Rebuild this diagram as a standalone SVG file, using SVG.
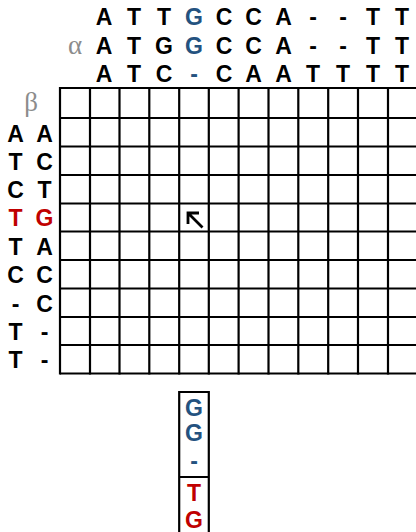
<svg xmlns="http://www.w3.org/2000/svg" width="416" height="532" viewBox="0 0 416 532">
<style>
.b{font-family:"Liberation Sans",Arial,sans-serif;font-weight:bold;font-size:23px;text-anchor:middle;fill:#000}
.blue{fill:#24527f}
.red{fill:#c00000}
.gr{font-family:"Liberation Serif","Times New Roman",serif;font-size:27px;text-anchor:middle;fill:#8c8c8c}
.ln{stroke:#000;stroke-width:2.2;fill:none}
</style>
<rect width="416" height="532" fill="#fff"/>
<g id="seqs-top">
<text class="b" y="25"><tspan x="104">A</tspan><tspan x="134">T</tspan><tspan x="164">T</tspan><tspan x="194" class="blue">G</tspan><tspan x="224">C</tspan><tspan x="253.5">C</tspan><tspan x="283.5">A</tspan><tspan x="313">-</tspan><tspan x="343">-</tspan><tspan x="373">T</tspan><tspan x="402">T</tspan></text>
<text class="b" y="53.5"><tspan x="104">A</tspan><tspan x="134">T</tspan><tspan x="164">G</tspan><tspan x="194" class="blue">G</tspan><tspan x="224">C</tspan><tspan x="253.5">C</tspan><tspan x="283.5">A</tspan><tspan x="313">-</tspan><tspan x="343">-</tspan><tspan x="373">T</tspan><tspan x="402">T</tspan></text>
<text class="b" y="82"><tspan x="104">A</tspan><tspan x="134">T</tspan><tspan x="164">C</tspan><tspan x="194" class="blue">-</tspan><tspan x="224">C</tspan><tspan x="253.5">A</tspan><tspan x="283.5">A</tspan><tspan x="313">T</tspan><tspan x="343">T</tspan><tspan x="373">T</tspan><tspan x="402">T</tspan></text>
<text class="gr" x="75" y="54">α</text>
</g>
<g id="seqs-left">
<text class="gr" x="31" y="111">β</text>
<text class="b" y="141.5"><tspan x="15.5">A</tspan><tspan x="44.5">A</tspan></text>
<text class="b" y="169.5"><tspan x="15.5">T</tspan><tspan x="44.5">C</tspan></text>
<text class="b" y="198"><tspan x="15.5">C</tspan><tspan x="44.5">T</tspan></text>
<text class="b red" y="226"><tspan x="15.5">T</tspan><tspan x="44.5">G</tspan></text>
<text class="b" y="254.5"><tspan x="15.5">T</tspan><tspan x="44.5">A</tspan></text>
<text class="b" y="283"><tspan x="15.5">C</tspan><tspan x="44.5">C</tspan></text>
<text class="b" y="311.5"><tspan x="15.5">-</tspan><tspan x="44.5">C</tspan></text>
<text class="b" y="339.5"><tspan x="15.5">T</tspan><tspan x="44.5">-</tspan></text>
<text class="b" y="368"><tspan x="15.5">T</tspan><tspan x="44.5">-</tspan></text>
</g>
<g id="grid" class="ln">
<path d="M60 88H418M60 118H418M60 146.5H418M60 175H418M60 203.5H418M60 231.5H418M60 260H418M60 288.5H418M60 317H418M60 345H418M60 373.5H418"/>
<path d="M60 87V374.6M90 87V374.6M119.5 87V374.6M149.3 87V374.6M179.2 87V374.6M208.8 87V374.6M238.6 87V374.6M268.5 87V374.6M298.3 87V374.6M328.2 87V374.6M358 87V374.6M388 87V374.6"/>
</g>
<g id="result-box">
<path class="ln" d="M179.2 534V392H208.8V534M179.2 477H208.8"/>
<text class="b blue" x="194" y="415.5">G</text>
<text class="b blue" x="194" y="441">G</text>
<text class="b blue" x="194" y="469">-</text>
<text class="b red" x="194" y="500.5">T</text>
<text class="b red" x="194" y="527.5">G</text>
</g>
<g id="connectors">
<path d="M202.5 227.5L189.5 214.5M188 224V213H199" stroke="#000" stroke-width="2.8" fill="none"/>
</g>
</svg>
